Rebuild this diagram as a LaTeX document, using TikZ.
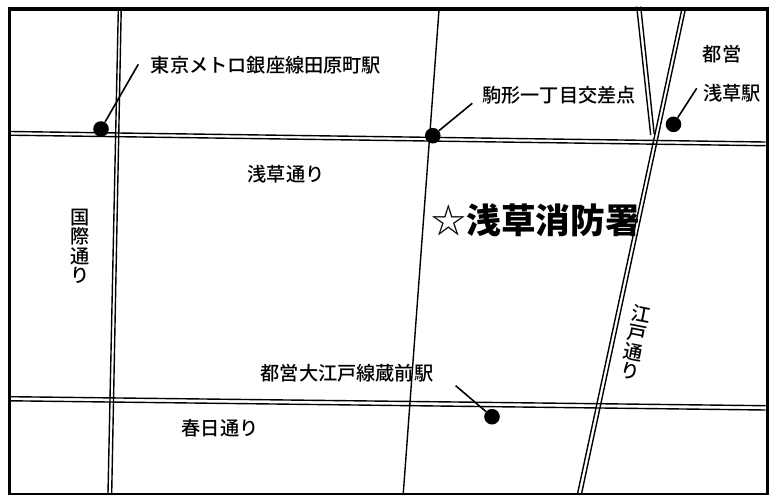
\documentclass[tikz,border=0pt]{standalone}
\usepackage{fontspec}
\setmainfont{Noto Sans CJK JP}[BoldFont={Noto Sans CJK JP Black}]
\newfontfamily\medfont{Noto Sans CJK JP Medium}
\tikzset{
  x=0.75pt,y=-0.75pt,
  frame/.style={draw=black,line width=2.7pt,fill=white},
  road/.style={draw=black,line width=1.05pt},
  stn/.style={circle,fill=black,inner sep=0pt,minimum size=11.7pt},
  leader/.style={draw=black,line width=1.2pt},
  lbl/.style={inner sep=0pt,font=\medfont\fontsize{14.4pt}{14.5pt}\selectfont,align=center},
  ttl/.style={inner sep=0pt,font=\fontsize{26pt}{28pt}\selectfont}
}
\begin{document}
\begin{tikzpicture}
\useasboundingbox (0,0) rectangle (776,494);
\fill[white] (0,0) rectangle (776,494);
\draw[frame] (9.5,9) rectangle (767.3,494.5);
% Kokusai-dori
\draw[road] (118.3,10) -- (108,493);
\draw[road] (121.2,10) -- (111.7,493);
% Asakusa-dori
\draw[road] (11,131.5) -- (765.5,142);
\draw[road] (11,135.2) -- (765.5,145.7);
% Kasuga-dori
\draw[road] (11,396.7) -- (765.5,405.7);
\draw[road] (11,400.8) -- (765.5,410);
% centre street
\draw[road] (439,10) -- (403.3,493);
% Edo-dori
\draw[road] (681.7,10) -- (577.7,493);
\draw[road] (685.2,10) -- (581.7,493);
% branch
\draw[road] (636.7,6.5) -- (650.7,135);
\draw[road] (640.7,6.5) -- (654.2,134);
% stations
\node[stn] (s1) at (101,129) {};
\node[stn] (s2) at (432.8,135.7) {};
\node[stn] (s3) at (673.5,124.3) {};
\node[stn] (s4) at (492,416.7) {};
\coordinate (l1) at (138.3,64.3);
\coordinate (l2) at (472.3,103.3);
\coordinate (l3) at (696.7,88.3);
\coordinate (l4) at (455.7,385.7);
\draw[leader] (l1) -- (s1);
\draw[leader] (l2) -- (s2);
\draw[leader] (l3) -- (s3);
\draw[leader] (l4) -- (s4);
% labels
\node[lbl] (t1) at (266,65.5) {東京メトロ銀座線田原町駅};
\node[lbl] (t2) at (286,174) {浅草通り};
\node[lbl] (t3) at (80,246.5) {国\\際\\通\\り};
\node[lbl] (t4) at (559,95) {駒形一丁目交差点};
\node[lbl] (t5) at (722,54.5) {都営};
\node[lbl] (t6) at (732,93) {浅草駅};
\node[lbl] (t7) at (347,373) {都営大江戸線蔵前駅};
\node[lbl] (t8) at (220,428) {春日通り};
\node[lbl,rotate=-11] (t9) at (635.5,343) {江\\戸\\通\\り};
\node[ttl] (t10) at (535.5,220) {☆\hspace{0.5pt}\bfseries 浅草消防署};
\end{tikzpicture}
\end{document}
